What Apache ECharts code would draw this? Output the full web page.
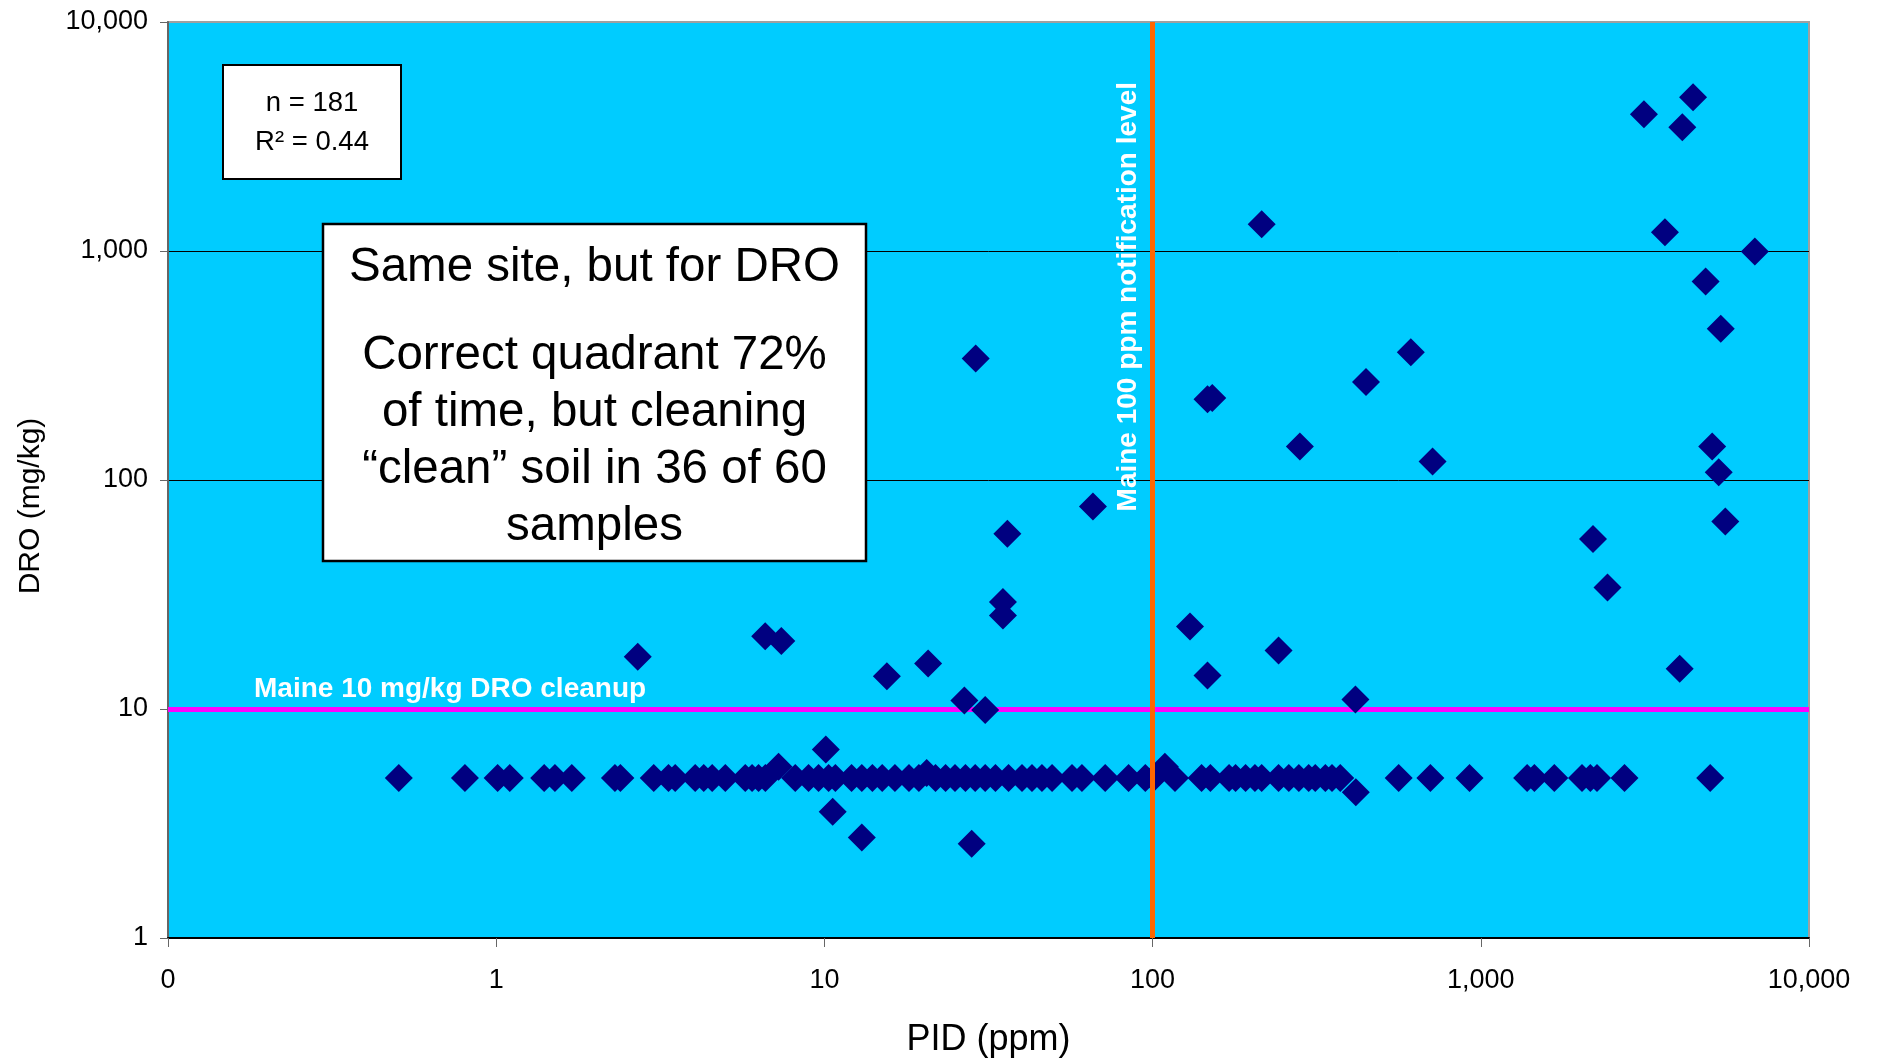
<!DOCTYPE html>
<html>
<head>
<meta charset="utf-8">
<script src="https://cdn.jsdelivr.net/npm/echarts@6/dist/echarts.min.js"></script>
<style>
html,body{margin:0;padding:0;background:#ffffff;}
#chart{width:1879px;height:1063px;}
</style>
</head>
<body>
<div id="chart"></div>
<script>
// ---- DATA ----
// PID values (ppm) of samples whose DRO plotted at the non-detect level
const nonDetectDRO = 5;
const pidNonDetect = [
  0.505, 0.803, 1.01, 1.10, 1.40, 1.51, 1.70, 2.30, 2.39,
  3.02, 3.35, 3.51, 4.04, 4.29, 4.55, 4.99, 5.74, 6.02, 6.30, 6.61,
  8.15, 8.95, 9.60, 10.3, 10.8, 12.1, 13.0, 14.0, 15.0, 16.4, 18.1, 19.4,
  21.8, 23.4, 25.0, 26.9, 28.8, 30.9, 33.2,
  36.4, 40.0, 42.9, 46.0, 49.4, 56.8, 60.9, 71.7, 84.5, 95, 100.7,
  117, 141, 150, 171, 179, 192, 205, 215, 242, 260, 279, 299, 313, 336, 352, 373,
  562, 702, 924, 1384, 1456, 1675, 2034, 2156, 2260, 2741, 5000
];
// Other samples: PID (ppm) and DRO (mg/kg)
const pidDetected = [
  2.70, 6.60, 7.39, 15.5, 20.7, 26.7, 30.9,
  28.9, 35.0, 35.0, 36.1, 65.8,
  10.1, 10.6, 13.0, 28.1, 7.25, 20.5, 109, 416,
  130, 242, 147, 415, 4036,
  147, 152, 215, 281, 447, 612, 713,
  4433, 3141, 4111, 3639, 6839, 4842, 5384, 5070, 5308, 5559, 2197, 2432
];
const droDetected = [
  16.9, 20.8, 19.8, 13.9, 15.8, 10.9, 9.9,
  339, 29.3, 25.6, 58.2, 76.7,
  6.66, 3.56, 2.75, 2.58, 5.6, 5.25, 5.6, 4.33,
  22.9, 18.0, 14.0, 11.0, 15.0,
  225, 228, 1310, 140, 268, 361, 120.5,
  4688, 3953, 3468, 1208, 996, 736, 458, 140, 108, 65.9, 55.3, 33.9
];
const xTickValues = [0.1, 1, 10, 100, 1000, 10000];
const xTickLabels = ['0', '1', '10', '100', '1,000', '10,000'];
const yTickValues = [1, 10, 100, 1000, 10000];
const yTickLabels = ['1', '10', '100', '1,000', '10,000'];
const cleanupLevel = 10;       // mg/kg DRO
const notificationLevel = 100; // ppm PID
const cleanupLabel = 'Maine 10 mg/kg DRO cleanup';
const notificationLabel = 'Maine 100 ppm notification level';
const statsText = 'n = 181\nR² = 0.44';
const noteTitle = 'Same site, but for DRO';
const noteBody = 'Correct quadrant 72%\nof time, but cleaning\n\u201Cclean\u201D soil in 36 of 60\nsamples';

// ---- CHART ----
const FONT = '"Liberation Sans", Arial, sans-serif';
const points = pidNonDetect.map(p => [p, nonDetectDRO])
  .concat(pidDetected.map((p, i) => [p, droDetected[i]]));

function lookupLabel(values, labels, v) {
  const lv = Math.round(Math.log10(v));
  for (let i = 0; i < values.length; i++) {
    if (Math.round(Math.log10(values[i])) === lv) return labels[i];
  }
  return '';
}

const chart = echarts.init(document.getElementById('chart'), null, {renderer: 'canvas'});
chart.setOption({
  animation: false,
  backgroundColor: '#ffffff',
  grid: {
    left: 168, right: 70, top: 22, bottom: 125,
    show: true, backgroundColor: '#00CCFF', borderColor: '#A0A0A0', borderWidth: 2
  },
  xAxis: {
    type: 'log', logBase: 10, min: 0.1, max: 10000,
    name: 'PID (ppm)', nameLocation: 'middle', nameGap: 84,
    nameTextStyle: {fontFamily: FONT, fontSize: 36, color: '#000'},
    axisLine: {show: true, lineStyle: {color: '#000', width: 2}},
    axisTick: {show: true, length: 9, lineStyle: {color: '#666', width: 1}},
    minorTick: {show: false},
    splitLine: {show: false},
    axisLabel: {
      fontFamily: FONT, fontSize: 27, color: '#000', margin: 29,
      formatter: v => lookupLabel(xTickValues, xTickLabels, v)
    }
  },
  yAxis: {
    type: 'log', logBase: 10, min: 1, max: 10000,
    name: 'DRO (mg/kg)', nameLocation: 'middle', nameGap: 122,
    nameTextStyle: {fontFamily: FONT, fontSize: 30, color: '#000', padding: [0, 52, 0, 0]},
    axisLine: {show: true, lineStyle: {color: '#666', width: 2}},
    axisTick: {show: true, length: 8, lineStyle: {color: '#666', width: 1}},
    minorTick: {show: false},
    splitLine: {show: true, showMinLine: false, showMaxLine: false, lineStyle: {color: '#000', width: 1}},
    axisLabel: {
      fontFamily: FONT, fontSize: 27, color: '#000', margin: 20,
      formatter: v => lookupLabel(yTickValues, yTickLabels, v)
    }
  },
  series: [
    {
      type: 'scatter', z: 1, data: [], silent: true,
      markLine: {
        silent: true, symbol: ['none', 'none'], z: 1,
        lineStyle: {color: '#FF00FF', width: 5, type: 'solid', opacity: 1},
        label: {
          show: true, position: 'insideStartTop', distance: [86, 6],
          formatter: cleanupLabel, color: '#ffffff', fontFamily: FONT,
          fontWeight: 'bold', fontSize: 28
        },
        data: [{yAxis: cleanupLevel}]
      }
    },
    {
      type: 'scatter', z: 3, symbol: 'diamond', symbolSize: 28,
      itemStyle: {color: '#000080', opacity: 1},
      data: points
    },
    {
      type: 'scatter', z: 5, data: [], silent: true,
      markLine: {
        silent: true, symbol: ['none', 'none'], z: 5,
        lineStyle: {color: '#FF6600', width: 5, type: 'solid', opacity: 1},
        label: {
          show: true, position: 'insideEndTop', distance: [60, 10],
          formatter: notificationLabel, color: '#ffffff', fontFamily: FONT,
          fontWeight: 'bold', fontSize: 28
        },
        data: [{xAxis: notificationLevel}]
      }
    }
  ],
  graphic: [
    {
      type: 'rect', z: 100,
      shape: {x: 223, y: 65, width: 178, height: 114},
      style: {fill: '#ffffff', stroke: '#000000', lineWidth: 2}
    },
    {
      type: 'text', z: 101, x: 312, y: 123,
      style: {
        text: statsText, fill: '#000', fontFamily: FONT, fontSize: 27.5, lineHeight: 39,
        align: 'center', verticalAlign: 'middle', textAlign: 'center', textVerticalAlign: 'middle'
      }
    },
    {
      type: 'rect', z: 100,
      shape: {x: 323, y: 224, width: 543, height: 337},
      style: {fill: '#ffffff', stroke: '#000000', lineWidth: 2.5}
    },
    {
      type: 'text', z: 101, x: 594.5, y: 268,
      style: {
        text: noteTitle, fill: '#000', fontFamily: FONT, fontSize: 47.5,
        align: 'center', verticalAlign: 'middle', textAlign: 'center', textVerticalAlign: 'middle'
      }
    },
    {
      type: 'text', z: 101, x: 594.5, y: 441,
      style: {
        text: noteBody, fill: '#000', fontFamily: FONT, fontSize: 47.5, lineHeight: 57,
        align: 'center', verticalAlign: 'middle', textAlign: 'center', textVerticalAlign: 'middle'
      }
    }
  ]
});
</script>
</body>
</html>
